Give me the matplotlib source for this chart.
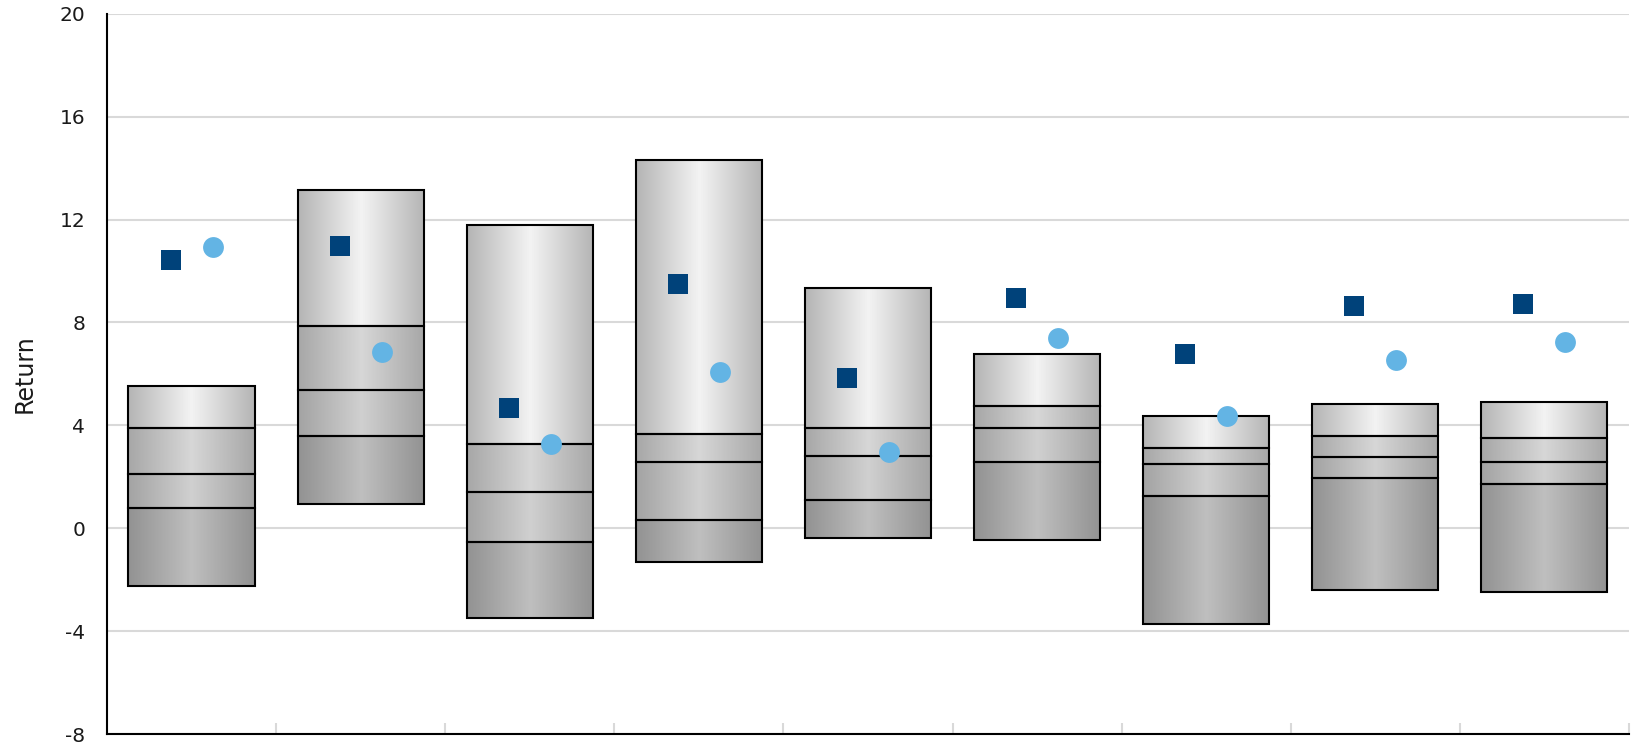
import numpy as np
import matplotlib
matplotlib.use("Agg")
import matplotlib.pyplot as plt
from matplotlib.colors import to_rgb

# ---- data ----
categories = ["1", "2", "3", "4", "5", "6", "7", "8", "9"]
low  = [-2.23, 0.93, -3.49, -1.31, -0.38, -0.45, -3.72, -2.41, -2.49]
q1   = [0.79, 3.59, -0.54, 0.32, 1.10, 2.58, 1.24, 1.94, 1.71]
mid  = [2.11, 5.37, 1.41, 2.58, 2.81, 3.89, 2.49, 2.78, 2.57]
q3   = [3.90, 7.86, 3.26, 3.66, 3.90, 4.75, 3.11, 3.59, 3.50]
high = [5.52, 13.14, 11.80, 14.30, 9.33, 6.76, 4.36, 4.83, 4.90]
square_vals = [10.41, 10.96, 4.66, 9.48, 5.83, 8.94, 6.76, 8.63, 8.71]
circle_vals = [10.94, 6.84, 3.26, 6.06, 2.95, 7.38, 4.36, 6.53, 7.23]
yticks = [-8, -4, 0, 4, 8, 12, 16, 20]

plt.rcParams['font.family'] = ['DejaVu Sans']

fig = plt.figure(figsize=(16.36, 7.46), dpi=100)
ax = fig.add_axes([0.0654, 0.016, 0.9303, 0.9656])

x = np.arange(len(categories))
width = 0.746
offset = 0.124

# gradient palettes per segment (edge, peak) from bottom to top
seg_colors = [("#929292", "#bfbfbf"),
              ("#a3a3a3", "#d0d0d0"),
              ("#a7a7a7", "#d7d7d7"),
              ("#b4b4b4", "#f3f3f3")]

def grad(edge, peak, n=200):
    t = np.linspace(0, 1, n)
    w = 1 - np.abs(2 * t - 1)
    e = np.array(to_rgb(edge)); p = np.array(to_rgb(peak))
    return (e[None, :] + (p - e)[None, :] * w[:, None])[None, :, :]

levels = np.array([low, q1, mid, q3, high])
for i in range(len(categories)):
    x0, x1 = x[i] - width / 2, x[i] + width / 2
    for s in range(4):
        y0, y1 = levels[s, i], levels[s + 1, i]
        edge, peak = seg_colors[s]
        ax.imshow(grad(edge, peak), extent=[x0, x1, y0, y1], aspect='auto',
                  interpolation='bilinear', zorder=2)
    for s in range(4):
        ax.bar(x[i], levels[s + 1, i] - levels[s, i], bottom=levels[s, i],
               width=width, fill=False, edgecolor='black', linewidth=1.5, zorder=3)

ax.plot(x - offset, square_vals, linestyle='none', marker='s', markersize=15,
        color='#00427a', markeredgewidth=0, zorder=4)
ax.plot(x + offset, circle_vals, linestyle='none', marker='o', markersize=15,
        color='#63b4e4', markeredgewidth=0, zorder=4)

ax.set_xlim(-0.5, len(categories) - 0.5)
ax.set_ylim(-8, 20)
ax.set_yticks(yticks)
ax.set_yticklabels([str(v) for v in yticks], fontsize=14.5, color='#1a1a1a')
ax.tick_params(axis='y', length=0, pad=15.6)
ax.set_xticks(np.arange(len(categories)) + 0.5)
ax.set_xticklabels([])
ax.tick_params(axis='x', direction='in', length=8, width=1.5, color='#d9d9d9')
ax.grid(axis='y', color='#d9d9d9', linewidth=1.5, zorder=0)
ax.set_axisbelow(True)
for sp in ['top', 'right']:
    ax.spines[sp].set_visible(False)
for sp in ['left', 'bottom']:
    ax.spines[sp].set_linewidth(1.5)
    ax.spines[sp].set_color('black')
    ax.spines[sp].set_zorder(5)
ax.set_ylabel("Return", fontsize=17, color='#1a1a1a')
ax.yaxis.set_label_coords(-0.046, 0.5)

fig.savefig("out.png", dpi=100)
